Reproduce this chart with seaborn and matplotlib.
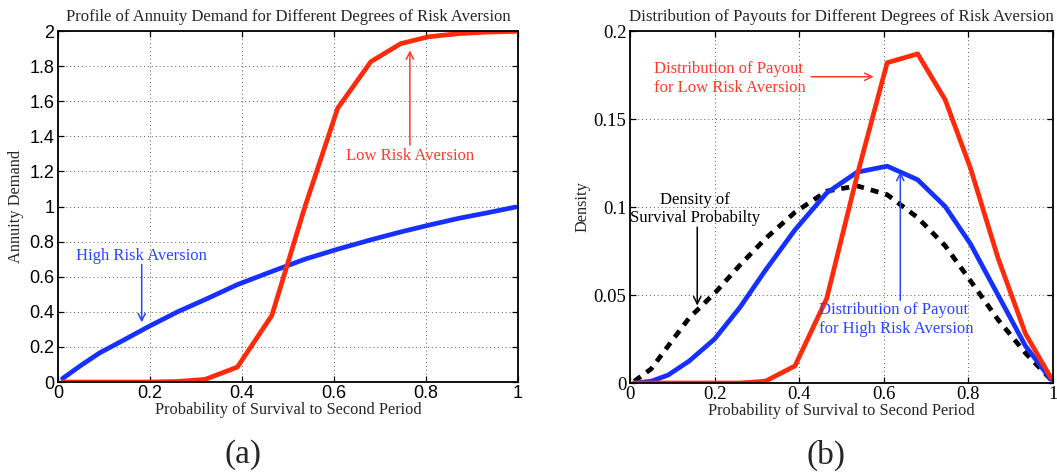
import matplotlib
matplotlib.use("Agg")
import matplotlib.pyplot as plt
import seaborn as sns
import pandas as pd

# ---------------- data ----------------
survival_prob = [0.01, 0.05, 0.09, 0.14, 0.20, 0.26, 0.32, 0.39, 0.465, 0.537,
                 0.608, 0.68, 0.745, 0.805, 0.87, 0.935, 0.995]

# (a) annuity demand
demand_low_ra = [0.0, 0.0, 0.0, 0.0, 0.0, 0.003, 0.015, 0.085, 0.38, 1.0,
                 1.56, 1.825, 1.928, 1.967, 1.985, 1.994, 1.998]
demand_high_ra = [0.02, 0.095, 0.165, 0.235, 0.32, 0.40, 0.47, 0.555, 0.63, 0.70,
                  0.757, 0.81, 0.855, 0.893, 0.932, 0.965, 0.997]

# (b) densities
payout_low_ra = [0.0, 0.0, 0.0, 0.0, 0.0, 0.0, 0.001, 0.0097, 0.048, 0.118,
                 0.182, 0.187, 0.161, 0.122, 0.071, 0.028, 0.003]
payout_high_ra = [0.0, 0.001, 0.0045, 0.0125, 0.025, 0.043, 0.064, 0.087, 0.108, 0.1198,
                  0.1232, 0.1155, 0.1003, 0.079, 0.05, 0.021, 0.002]
survival_density = [0.001, 0.008, 0.021, 0.037, 0.051, 0.067, 0.082, 0.097, 0.109, 0.112,
                    0.107, 0.094, 0.078, 0.058, 0.036, 0.017, 0.002]

x_ticks = [0, 0.2, 0.4, 0.6, 0.8, 1.0]
x_tick_labels = ["0", "0.2", "0.4", "0.6", "0.8", "1"]
y_ticks_a = [0, 0.2, 0.4, 0.6, 0.8, 1.0, 1.2, 1.4, 1.6, 1.8, 2.0]
y_tick_labels_a = ["0", "0.2", "0.4", "0.6", "0.8", "1", "1.2", "1.4", "1.6", "1.8", "2"]
y_ticks_b = [0, 0.05, 0.1, 0.15, 0.2]
y_tick_labels_b = ["0", "0.05", "0.1", "0.15", "0.2"]

title_a = "Profile of Annuity Demand for Different Degrees of Risk Aversion"
title_b = "Distribution of Payouts for Different Degrees of Risk Aversion"
xlabel = "Probability of Survival to Second Period"

df_a = pd.DataFrame({"p": survival_prob, "low": demand_low_ra, "high": demand_high_ra})
df_b = pd.DataFrame({"p": survival_prob, "low": payout_low_ra, "high": payout_high_ra,
                     "dens": survival_density})

# ---------------- style ----------------
sns.set_style("white")
plt.rcParams["font.family"] = ["Liberation Serif", "DejaVu Serif"]

RED = "#ff2a0a"
BLUE = "#1530ff"
RED_TXT = "#ff3a28"
BLUE_TXT = "#2846ff"

W, H = 1057, 473
fig = plt.figure(figsize=(W / 100, H / 100), dpi=100)
ax1 = fig.add_axes([58 / W, 1 - 382 / H, 460 / W, 351 / H])
ax2 = fig.add_axes([630 / W, 1 - 383 / H, 423 / W, 352 / H])

LW = 3.4

# (a)
sns.lineplot(data=df_a, x="p", y="high", ax=ax1, color=BLUE, linewidth=LW,
             estimator=None, sort=False)
sns.lineplot(data=df_a, x="p", y="low", ax=ax1, color=RED, linewidth=LW,
             estimator=None, sort=False)

# (b)
sns.lineplot(data=df_b, x="p", y="dens", ax=ax2, color="black", linewidth=LW,
             estimator=None, sort=False)
sns.lineplot(data=df_b, x="p", y="high", ax=ax2, color=BLUE, linewidth=LW,
             estimator=None, sort=False)
sns.lineplot(data=df_b, x="p", y="low", ax=ax2, color=RED, linewidth=LW,
             estimator=None, sort=False)
dash_line = ax2.get_lines()[0]
dash_line.set_linestyle((0, (1.7, 1.5)))
dash_line.set_dash_capstyle("butt")


def style_axes(ax, yticks, ylabels, ylim, tickfont, ticksize):
    ax.set_xlim(0, 1)
    ax.set_ylim(*ylim)
    ax.set_xticks(x_ticks, x_tick_labels)
    ax.set_yticks(yticks, ylabels)
    ax.tick_params(direction="in", top=True, right=True, bottom=True, left=True,
                   length=4, width=0.9, color="black", labelsize=ticksize,
                   labelfontfamily=tickfont, labelcolor="black", pad=2.5)
    ax.grid(True, linestyle=(0, (1, 3)), color="#555555", linewidth=0.7)
    for s in ax.spines.values():
        s.set_visible(True)
        s.set_color("black")
        s.set_linewidth(1.3)
    ax.set_xlabel(xlabel, fontsize=11.8, labelpad=0)


style_axes(ax1, y_ticks_a, y_tick_labels_a, (0, 2), "Liberation Sans", 13)
style_axes(ax2, y_ticks_b, y_tick_labels_b, (0, 0.2), "Liberation Serif", 13.5)

ax1.set_ylabel("Annuity Demand", fontsize=11.8, labelpad=4)
ax2.set_ylabel("Density", fontsize=11.8, labelpad=2)
ax1.set_title(title_a, fontsize=12, pad=7)
ax2.set_title(title_b, fontsize=12.2, pad=7)

ARW = dict(arrowstyle="->", lw=1.1, mutation_scale=13, shrinkA=0, shrinkB=0)
FS = 12

# annotations (a)
ax1.annotate("", xy=(0.765, 1.89), xytext=(0.765, 1.35),
             arrowprops=dict(ARW, color=RED_TXT))
ax1.text(0.765, 1.29, "Low Risk Aversion", color=RED_TXT, fontsize=FS,
         ha="center", va="center")
ax1.annotate("", xy=(0.182, 0.34), xytext=(0.182, 0.67),
             arrowprops=dict(ARW, color=BLUE_TXT))
ax1.text(0.182, 0.72, "High Risk Aversion", color=BLUE_TXT, fontsize=FS,
         ha="center", va="center")

# annotations (b)
ax2.text(0.057, 0.173, "Distribution of Payout\nfor Low Risk Aversion", color=RED_TXT,
         fontsize=FS, ha="left", va="center", linespacing=1.2)
ax2.annotate("", xy=(0.576, 0.174), xytext=(0.428, 0.174),
             arrowprops=dict(ARW, color=RED_TXT))
ax2.text(0.153, 0.099, "Density of\nSurvival Probabilty", color="black",
         fontsize=FS, ha="center", va="center", linespacing=1.2)
ax2.annotate("", xy=(0.159, 0.044), xytext=(0.159, 0.0885),
             arrowprops=dict(ARW, color="black"))
ax2.text(0.447, 0.036, "Distribution of Payout\nfor High Risk Aversion", color=BLUE_TXT,
         fontsize=FS, ha="left", va="center", linespacing=1.2)
ax2.annotate("", xy=(0.639, 0.12), xytext=(0.639, 0.047),
             arrowprops=dict(ARW, color=BLUE_TXT))

fig.text(243 / W, 1 - 455 / H, "(a)", fontsize=24, ha="center", va="center")
fig.text(826 / W, 1 - 455 / H, "(b)", fontsize=24, ha="center", va="center")

fig.savefig("out.png", dpi=100)
